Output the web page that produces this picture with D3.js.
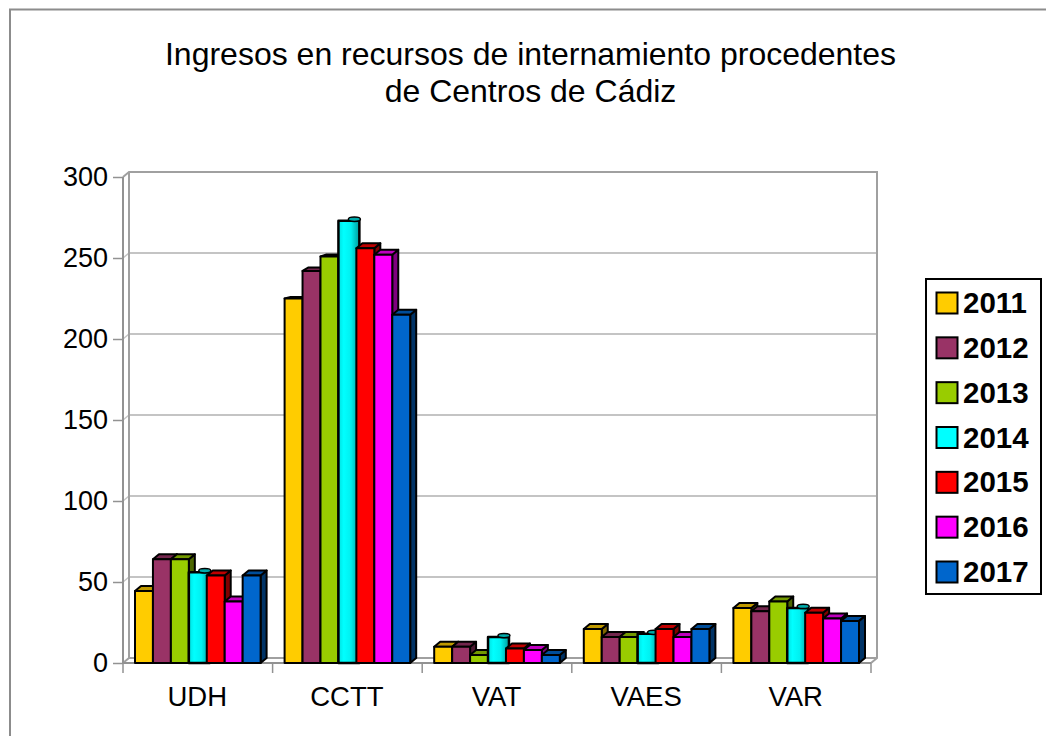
<!DOCTYPE html>
<html><head><meta charset="utf-8">
<script src="https://cdn.jsdelivr.net/npm/d3@7"></script>
<style>html,body{margin:0;padding:0;background:#fff}svg{display:block}text{font-family:"Liberation Sans",Arial,sans-serif;fill:#000}</style>
</head><body><svg id="c" width="1046" height="736"></svg>
<script>
const categories = ["UDH","CCTT","VAT","VAES","VAR"];
const years = ["2011","2012","2013","2014","2015","2016","2017"];
const colors = ["#ffcc00","#993366","#99cc00","#00ffff","#ff0000","#ff00ff","#0066cc"];
const sideColors = ["#7f6600","#4c1933","#4c6600","#008080","#7f0000","#7f007f","#003366"];
const v2011 = [44.5,225,10,21,34];
const v2012 = [64,242,10,16,32];
const v2013 = [64,251,5,16,38];
const v2014 = [56,273,16,18,34];
const v2015 = [54,256,9,21,31];
const v2016 = [38,252,8,16,27.5];
const v2017 = [54,215,5,21,26];
const seriesValues = [v2011,v2012,v2013,v2014,v2015,v2016,v2017];
const yTicks = [0,50,100,150,200,250,300];
const titleLines = ["Ingresos en recursos de internamiento procedentes","de Centros de Cádiz"];

const svg = d3.select("#c");
const dx = 6, dy = -5;
const y = d3.scaleLinear().domain([0,300]).range([663,177]);
const x0 = d3.scaleBand().domain(categories).range([123,871]);
const pad = 12;
const x1 = d3.scaleBand().domain(years).range([pad, x0.bandwidth()-pad]);

const defs = svg.append("defs");
const grad = defs.append("linearGradient").attr("id","cyl");
grad.append("stop").attr("offset","0%").attr("stop-color","#00e0e0");
grad.append("stop").attr("offset","25%").attr("stop-color","#00ffff");
grad.append("stop").attr("offset","60%").attr("stop-color","#00f0f0");
grad.append("stop").attr("offset","100%").attr("stop-color","#009c9c");

// outer frame
svg.append("rect").attr("x",10).attr("y",9.5).attr("width",1060).attr("height",760)
  .attr("fill","#fff").attr("stroke","#8c8c8c").attr("stroke-width",2);

// title
svg.append("g").selectAll("text").data(titleLines).join("text")
  .attr("x",530.5).attr("y",(d,i)=>65+i*37).attr("text-anchor","middle")
  .attr("font-size",32).text(d=>d);

// walls
const axisCol = "#a0a0a0", gridCol = "#c4c4c4";
svg.append("g").selectAll("line").data(yTicks.filter(t=>t>0 && t<300)).join("line")
  .attr("x1",123+dx).attr("x2",871+dx).attr("y1",d=>y(d)+dy).attr("y2",d=>y(d)+dy)
  .attr("stroke",gridCol).attr("stroke-width",2);
svg.append("g").selectAll("line").data(yTicks.filter(t=>t>0 && t<300)).join("line")
  .attr("x1",123).attr("x2",123+dx).attr("y1",d=>y(d)).attr("y2",d=>y(d)+dy)
  .attr("stroke",gridCol).attr("stroke-width",1.5);
svg.append("path")
  .attr("d",`M${123},${y(300)}L${123+dx},${y(300)+dy}H${871+dx}V${y(0)+dy}L${871},${y(0)}`)
  .attr("fill","none").attr("stroke",axisCol).attr("stroke-width",2);
svg.append("path")
  .attr("d",`M${123+dx},${y(300)+dy}V${y(0)+dy}H${871+dx}M${123},${y(0)}L${123+dx},${y(0)+dy}`)
  .attr("fill","none").attr("stroke",axisCol).attr("stroke-width",2);
svg.append("path").attr("d",`M${123},${y(300)}V${y(0)}H${871}`)
  .attr("fill","none").attr("stroke","#929292").attr("stroke-width",2);

// axes ticks and labels
const yAxis = d3.axisLeft(y).tickValues(yTicks).tickSize(10).tickPadding(5);
const gy = svg.append("g").attr("transform","translate(123,0)").call(yAxis);
gy.select(".domain").remove();
gy.selectAll("line").attr("stroke","#929292").attr("stroke-width",1.5);
gy.selectAll("text").attr("font-size",27).style("font-family",'"Liberation Sans"').attr("fill","#000");

const tickXs = categories.map(c=>x0(c)).concat([871]);
svg.append("g").selectAll("line").data(tickXs).join("line")
  .attr("x1",d=>d).attr("x2",d=>d).attr("y1",663).attr("y2",673)
  .attr("stroke","#929292").attr("stroke-width",1.5);
svg.append("g").selectAll("text").data(categories).join("text")
  .attr("x",c=>x0(c)+x0.bandwidth()/2-0.5).attr("y",706).attr("text-anchor","middle")
  .attr("font-size",27.5).text(d=>d);

// bars
const bars = svg.append("g").attr("stroke","#000").attr("stroke-width",2).attr("stroke-linejoin","round");
// the tallest bars of the first three series show only a sliver of their top face
const shallowTop = [1.5,3.5,2];
categories.forEach((c,ci)=>{
  years.forEach((yr,si)=>{
    const g = bars.append("g");
    const val = seriesValues[si][ci];
    const l = x0(c)+x1(yr), r = l+x1.bandwidth(), t = y(val), b = y(0);
    if (si===3) {
      // this series is drawn as a cylinder: no side face, small elliptical cap
      g.append("rect").attr("x",l).attr("y",t).attr("width",r-l+3).attr("height",b-t)
        .attr("fill","url(#cyl)").attr("stroke-width",2.5);
      g.append("ellipse").attr("cx",r-2).attr("cy",t-1.5).attr("rx",6).attr("ry",2.2)
        .attr("fill","#00aaaa").attr("stroke-width",1.5);
      return;
    }
    const td = (val>200 && si<3) ? -shallowTop[si] : dy;
    g.append("path").attr("d",`M${r},${b}L${r+dx},${b+dy}V${t+td}L${r},${t}Z`).attr("fill",sideColors[si]);
    g.append("path").attr("d",`M${l},${t}L${l+dx},${t+td}H${r+dx}L${r},${t}Z`).attr("fill",d3.interpolateRgb(colors[si],sideColors[si])(0.5));
    g.append("rect").attr("x",l).attr("y",t).attr("width",r-l).attr("height",b-t).attr("fill",colors[si]);
  });
});

// legend
svg.append("rect").attr("x",926).attr("y",279).attr("width",115).attr("height",315)
  .attr("fill","#fff").attr("stroke","#000").attr("stroke-width",2);
const ly = d3.scalePoint().domain(years).range([303,572]);
const leg = svg.append("g").selectAll("g").data(years).join("g").attr("transform",d=>`translate(0,${ly(d)})`);
leg.append("rect").attr("x",936.5).attr("y",-10.5).attr("width",21).attr("height",21)
  .attr("fill",(d,i)=>colors[i]).attr("stroke","#000").attr("stroke-width",2);
leg.append("text").attr("x",963).attr("y",10).attr("font-size",29.5).attr("font-weight","bold").text(d=>d);
</script></body></html>
